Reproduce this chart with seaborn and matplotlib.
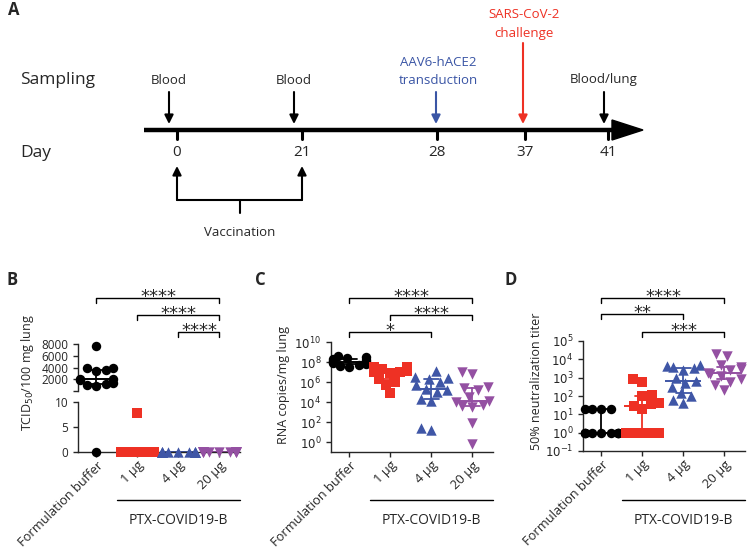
import numpy as np
import matplotlib
matplotlib.use("Agg")
import matplotlib.pyplot as plt
import seaborn as sns
from matplotlib.transforms import blended_transform_factory

# groups / styles
groups = ["Formulation buffer", "1 µg", "4 µg", "20 µg"]
colors = ["#000000", "#EE3124", "#3F56A6", "#9450A2"]
markers = ["o", "s", "^", "v"]
sizes = [6.8, 6.5, 7.5, 7.5]

# B: TCID50 / 100 mg lung
tcid_fb = [7600, 4000, 3900, 3500, 3400, 2100, 2000, 1900, 1300, 1200, 1000, 800, 0]
tcid_1 = [7.8, 0, 0, 0, 0, 0, 0, 0, 0, 0, 0, 0, 0]
tcid_4 = [0, 0, 0, 0, 0, 0, 0, 0, 0, 0, 0, 0, 0]
tcid_20 = [0, 0, 0, 0, 0, 0, 0, 0, 0, 0, 0, 0, 0]

# C: RNA copies / mg lung
rna_fb = [4e8, 3e8, 2.5e8, 2e8, 1.5e8, 1.2e8, 1e8, 9e7, 8e7, 6e7, 5e7, 4e7, 3e7]
rna_1 = [3e7, 3e7, 2.5e7, 2e7, 1.5e7, 1.2e7, 1e7, 9e6, 8e6, 2e6, 1e6, 5e5, 8e4]
rna_4 = [1.2e7, 3e6, 2.5e6, 2e6, 1e6, 5e5, 2e5, 1.5e5, 1e5, 2e4, 1.2e4, 25, 15]
rna_20 = [1e7, 6e6, 3e5, 2.5e5, 1.5e5, 3e4, 1.3e4, 1e4, 5e3, 4e3, 3e3, 80, 0.7]

# D: 50% neutralization titer
nt_fb = [1, 1, 1, 1, 1, 1, 1, 1, 1, 20, 20, 20, 20]
nt_1 = [800, 600, 120, 100, 40, 35, 30, 20, 1, 1, 1, 1, 1]
nt_4 = [5000, 4500, 4000, 3500, 2500, 1000, 700, 500, 300, 150, 100, 60, 40]
nt_20 = [20000, 15000, 5000, 4000, 3000, 2500, 1800, 1500, 1200, 800, 600, 400, 200]

# A: timeline
days = ["0", "21", "28", "37", "41"]
day_x = [177, 302, 437, 525, 608]
sampling = ["Blood", "Blood", "Blood/lung"]
sampling_x = [169, 294, 604]

sns.set_style("ticks")
plt.rcParams["font.family"] = ["Open Sans", "DejaVu Sans"]
plt.rcParams["axes.linewidth"] = 1.0
plt.rcParams["xtick.major.width"] = 1.0
plt.rcParams["ytick.major.width"] = 1.0
plt.rcParams["xtick.major.size"] = 3.5
plt.rcParams["ytick.major.size"] = 3.5

fig = plt.figure(figsize=(7.5, 5.53), dpi=100)

# overlay in pixel coordinates for schematic and annotations
ov = fig.add_axes([0, 0, 1, 1])
ov.set_xlim(0, 750)
ov.set_ylim(553, 0)
ov.axis("off")

red = "#EE3124"
blue = "#3A55A5"


def arrow(x, y0, y1, c="k"):
    ov.annotate("", xy=(x, y1), xytext=(x, y0),
                arrowprops=dict(arrowstyle="-|>", color=c, lw=1.5,
                                mutation_scale=13, shrinkA=0, shrinkB=0))


# panel A
ov.text(8, 10, "A", fontsize=12, fontweight="bold", va="center")
ov.text(20, 80, "Sampling", fontsize=12.5, va="center")
ov.text(20, 153, "Day", fontsize=12.5, va="center")
ov.plot([144, 615], [130, 130], color="k", lw=3.2, solid_capstyle="butt")
ov.fill([612, 643, 612], [120, 130, 140], color="k")
for d, x in zip(days, day_x):
    ov.plot([x, x], [130, 139], color="k", lw=2.2)
    ov.text(x, 153, d, ha="center", va="center", fontsize=11)
for s, x in zip(sampling, sampling_x):
    ov.text(x, 80, s, ha="center", va="center", fontsize=9.5)
    arrow(x, 92, 124)
arrow(436, 92, 124, blue)
ov.text(438, 62, "AAV6-hACE2", ha="center", va="center", fontsize=9.5, color=blue)
ov.text(438, 80, "transduction", ha="center", va="center", fontsize=9.5, color=blue)
arrow(523, 43, 124, red)
ov.text(524, 15, "SARS-CoV-2", ha="center", va="center", fontsize=9.5, color=red)
ov.text(524, 33, "challenge", ha="center", va="center", fontsize=9.5, color=red)
arrow(day_x[0], 200, 166)
arrow(day_x[1], 200, 166)
ov.plot([day_x[0], day_x[1]], [200, 200], color="k", lw=1.5)
mid = (day_x[0] + day_x[1]) / 2
ov.plot([mid, mid], [200, 213], color="k", lw=1.5)
ov.text(mid, 233, "Vaccination", ha="center", va="center", fontsize=9.5)

W = 750.0
H = 553.0
xlim = (-0.45, 3.5)


def frac(left, top, right, bottom):
    return [left / W, 1 - bottom / H, (right - left) / W, (bottom - top) / H]


def draw(ax, vals, i, keep=None):
    v = [x for x in vals if keep is None or keep(x)]
    if v:
        sns.swarmplot(x=[groups[i]] * len(v), y=v, order=groups, color=colors[i],
                      marker=markers[i], size=sizes[i], linewidth=0,
                      ax=ax, clip_on=False, warn_thresh=1)
    if keep is None or keep(np.median(vals)):
        sns.pointplot(x=[groups[i]] * len(vals), y=vals, order=groups, estimator="median",
                      errorbar=("pi", 50), color=colors[i], markers="_", markersize=26,
                      markeredgewidth=1.4, capsize=0.35, err_kws={"linewidth": 1.3}, ax=ax)


def xaxis(ax):
    ax.set_xlim(*xlim)
    ax.set_xticks(range(4))
    ax.set_xticklabels(groups, rotation=45, ha="right", rotation_mode="anchor", fontsize=9.3)
    ax.tick_params(axis="x", pad=1.5)
    ax.set_xlabel("")
    ax.set_ylabel("")
    ax.tick_params(axis="y", labelsize=8.5)
    sns.despine(ax=ax)


def bracket(ax, i, j, y, label):
    tr = blended_transform_factory(ax.transData, ov.transData)
    ov.plot([i, i, j, j], [y + 5, y, y, y + 5], color="k", lw=1, transform=tr, clip_on=False)
    ov.text((i + j) / 2, y + 4, label, transform=tr, ha="center", va="baseline",
            fontsize=13, family="DejaVu Sans")


def group_line(ax):
    tr = blended_transform_factory(ax.transData, ov.transData)
    ov.plot([0.5, xlim[1]], [500, 500], color="k", lw=1, transform=tr, clip_on=False)
    ov.text(2.0, 521, "PTX-COVID19-B", transform=tr, ha="center", va="center", fontsize=10)


# panel B (broken axis)
tcid = [tcid_fb, tcid_1, tcid_4, tcid_20]
axb_top = fig.add_axes(frac(78, 344, 240, 391))
axb = fig.add_axes(frac(78, 402, 240, 452))
for i, vals in enumerate(tcid):
    draw(axb_top, vals, i, keep=lambda x: x > 10)
    draw(axb, vals, i, keep=lambda x: x <= 10)
xaxis(axb)
axb.set_ylim(0, 10)
axb.set_yticks([0, 5, 10])
axb_top.set_xlim(*xlim)
axb_top.set_ylim(10, 8000)
axb_top.set_yticks([10, 2000, 4000, 6000, 8000])
axb_top.set_yticklabels(["", "2000", "4000", "6000", "8000"])
axb_top.tick_params(axis="y", labelsize=8.5)
axb_top.set_xticks([])
axb_top.set_xlabel("")
axb_top.set_ylabel("")
sns.despine(ax=axb_top, bottom=True)
ov.text(28, 373, "TCID$_{50}$/100 mg lung", rotation=90, ha="center", va="center", fontsize=9)
ov.text(7, 280, "B", fontsize=12, fontweight="bold", va="center")
bracket(axb_top, 0, 3, 298, "****")
bracket(axb_top, 1, 3, 315, "****")
bracket(axb_top, 2, 3, 332, "****")
group_line(axb)

# panel C
rna = [rna_fb, rna_1, rna_4, rna_20]
axc = fig.add_axes(frac(331, 342, 493, 452))
axc.set_yscale("log")
for i, vals in enumerate(rna):
    draw(axc, vals, i)
xaxis(axc)
axc.set_ylim(1e-1, 1e10)
c_exp = [0, 2, 4, 6, 8, 10]
axc.set_yticks([10.0 ** e for e in c_exp])
axc.set_yticklabels([f"$10^{{{e}}}$" for e in c_exp])
axc.minorticks_off()
ov.text(283, 385, "RNA copies/mg lung", rotation=90, ha="center", va="center", fontsize=9)
ov.text(255, 280, "C", fontsize=12, fontweight="bold", va="center")
bracket(axc, 0, 3, 298, "****")
bracket(axc, 1, 3, 315, "****")
bracket(axc, 0, 2, 332, "*")
group_line(axc)

# panel D
nt = [nt_fb, nt_1, nt_4, nt_20]
axd = fig.add_axes(frac(583, 341, 745, 451))
axd.set_yscale("log")
for i, vals in enumerate(nt):
    draw(axd, vals, i)
xaxis(axd)
axd.set_ylim(1e-1, 1e5)
d_exp = [-1, 0, 1, 2, 3, 4, 5]
axd.set_yticks([10.0 ** e for e in d_exp])
axd.set_yticklabels([f"$10^{{{e}}}$" for e in d_exp])
axd.minorticks_off()
ov.text(537, 381, "50% neutralization titer", rotation=90, ha="center", va="center", fontsize=9)
ov.text(505, 280, "D", fontsize=12, fontweight="bold", va="center")
bracket(axd, 0, 3, 298, "****")
bracket(axd, 0, 2, 314, "**")
bracket(axd, 1, 3, 332, "***")
group_line(axd)

fig.savefig("out.png", dpi=100)
